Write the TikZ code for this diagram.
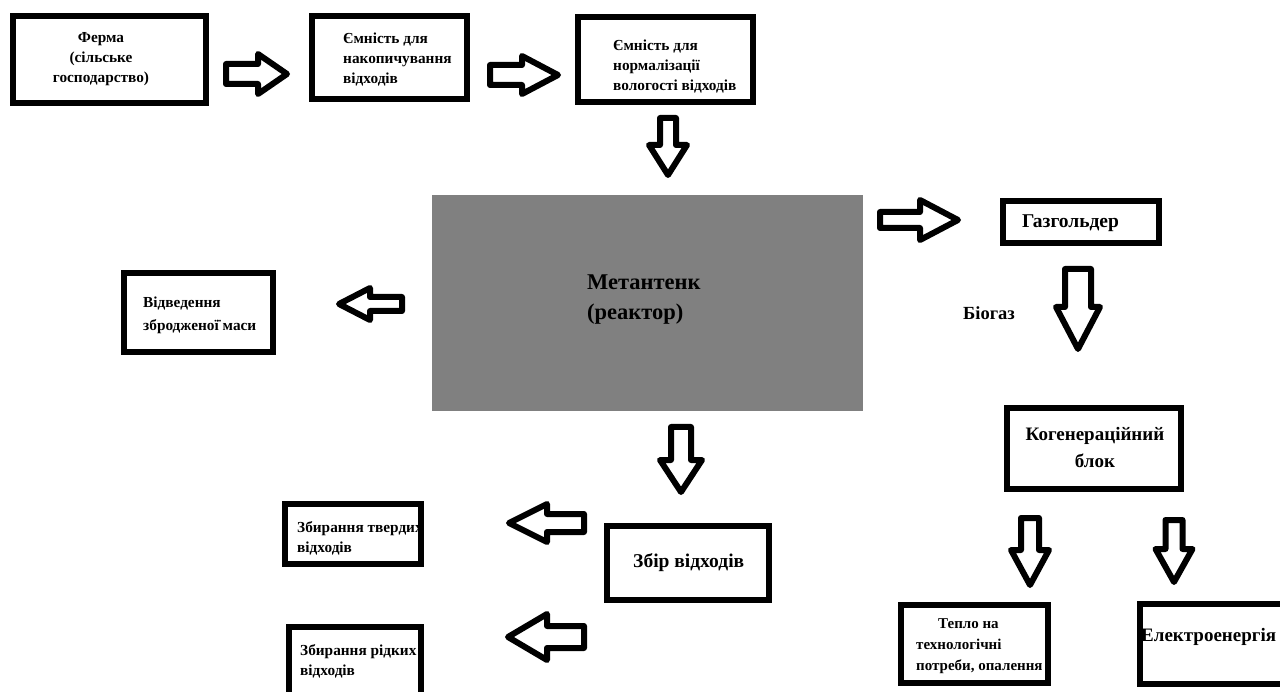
\documentclass[tikz,border=0pt]{standalone}
\usepackage{fontspec}
\setmainfont{Liberation Serif}
\definecolor{reactorgray}{RGB}{128,128,128}
\newcommand\arrH[6]{\draw[barrow] (#1,{#4-#5}) -- (#2,{#4-#5}) -- (#2,{#4-#6}) -- (#3,#4) -- (#2,{#4+#6}) -- (#2,{#4+#5}) -- (#1,{#4+#5}) -- cycle;}
\newcommand\arrV[6]{\draw[barrow] ({#4-#5},#1) -- ({#4-#5},#2) -- ({#4-#6},#2) -- (#4,#3) -- ({#4+#6},#2) -- ({#4+#5},#2) -- ({#4+#5},#1) -- cycle;}
\tikzset{
  box/.style={draw, line width=6pt, rectangle, inner sep=0pt, fill=white},
  barrow/.style={draw, line width=6pt, fill=white, line join=round, line cap=round},
  txt/.style={font=\bfseries\fontsize{15.3}{20}\selectfont, align=left, inner sep=0pt, anchor=west, text=black},
  bigtxt/.style={font=\bfseries\fontsize{19}{27}\selectfont, align=left, inner sep=0pt, anchor=west, text=black},
}
\begin{document}
\begin{tikzpicture}[x=1pt,y=-1pt]
\useasboundingbox (0,0) rectangle (1280,692);
\clip (0,0) rectangle (1280,692);
\fill[white] (0,0) rectangle (1280,692);
% boxes
\node[box, minimum width=193pt, minimum height=87pt] (farm) at (109.5,59.5) {};
\node[box, minimum width=155pt, minimum height=83pt] (acc) at (389.5,57.5) {};
\node[box, minimum width=175pt, minimum height=85pt] (norm) at (665.5,59.5) {};
\node[fill=reactorgray, minimum width=431pt, minimum height=216pt, inner sep=0pt] (reactor) at (647.5,303) {};
\node[box, minimum width=156pt, minimum height=42pt] (gas) at (1081,222) {};
\node[box, minimum width=149pt, minimum height=79pt] (digest) at (198.5,312.5) {};
\node[box, minimum width=174pt, minimum height=81pt] (cogen) at (1094,448.5) {};
\node[box, minimum width=147pt, minimum height=78pt] (heat) at (974.5,644) {};
\node[box, minimum width=147pt, minimum height=80pt] (elec) at (1213.5,644) {};
\node[box, minimum width=162pt, minimum height=74pt] (collect) at (688,563) {};
\node[box, minimum width=136pt, minimum height=60pt] (solid) at (353,534) {};
\node[box, minimum width=132pt, minimum height=75pt] (liquid) at (355,664.5) {};
% texts
\node[txt, align=center, anchor=center] (tfarm) at (101,59) {Ферма\\(сільське\\господарство)};
\node[txt] (tacc) at (343,60) {Ємність для\\накопичування\\відходів};
\node[txt] (tnorm) at (613,67) {Ємність для\\нормалізації\\вологості відходів};
\node[font=\bfseries\fontsize{22.5}{30}\selectfont, align=left, inner sep=0pt, anchor=west] (treactor) at (587,300) {Метантенк\\(реактор)};
\node[bigtxt, font=\bfseries\fontsize{19.5}{27}\selectfont] (tgas) at (1022,223) {Газгольдер};
\node[txt, font=\bfseries\fontsize{15.3}{23}\selectfont] (tdigest) at (143,315) {Відведення\\зброджено\"ї маси};
\node[bigtxt, align=center, anchor=center] (tcogen) at (1095,448) {Когенераційний\\блок};
\node[txt, font=\bfseries\fontsize{15}{21}\selectfont] (theat) at (916,646) {\hspace*{22pt}Тепло на\\технологічні\\потреби, опалення};
\node[bigtxt] (telec) at (1141,637) {Електроенергія};
\node[bigtxt, font=\bfseries\fontsize{19.5}{20}\selectfont] (tcollect) at (633,563) {Збір відходів};
\node[txt] (tsolid) at (297,538) {Збирання твердих\\відходів};
\node[txt] (tliquid) at (300,661) {Збирання рідких\\відходів};
\node[txt, font=\bfseries\fontsize{18.5}{20}\selectfont] (tbio) at (963,313) {Біогаз};
% block arrows
\arrH{226}{258}{287}{74}{10}{20}
\arrH{490}{522}{558}{75}{10}{19}
\arrV{118}{145}{175}{668}{8}{19}
\arrH{880}{920}{958}{220}{8}{20}
\arrV{269}{307}{349}{1078}{13}{22}
\arrH{402}{370}{339}{304}{7}{16}
\arrV{427}{460}{492}{681}{10}{21}
\arrH{584}{547}{509}{523}{9}{19}
\arrH{584}{547}{508}{637}{11}{23}
\arrV{518}{550}{585}{1030}{9}{19}
\arrV{520}{549}{582}{1174}{8.5}{18.5}
\end{tikzpicture}
\end{document}
